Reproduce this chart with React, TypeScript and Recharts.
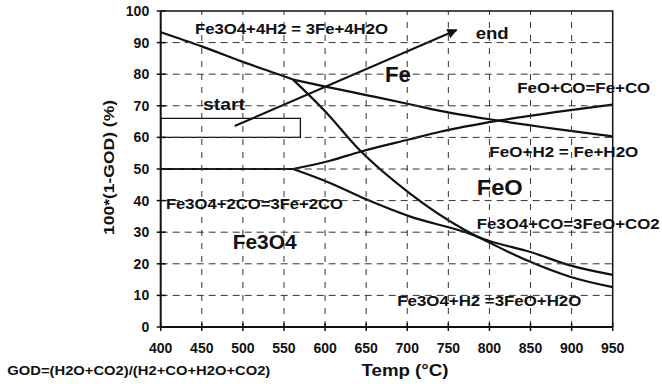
import React from 'react';
import {
  ComposedChart,
  Line,
  XAxis,
  YAxis,
  ReferenceArea,
  ReferenceDot,
} from 'recharts';

// ---------- data ----------
const xTicks = [400, 450, 500, 550, 600, 650, 700, 750, 800, 850, 900, 950];
const yTicks = [0, 10, 20, 30, 40, 50, 60, 70, 80, 90, 100];

// Fe3O4 + 4H2 = 3Fe + 4H2O (below triple point)
const fe3o4FeH2 = [
  { t: 400, v: 93.3 },
  { t: 450, v: 88.8 },
  { t: 500, v: 83.9 },
  { t: 545, v: 79.8 },
  { t: 561, v: 78.3 },
];
// FeO + H2 = Fe + H2O
const feoFeH2 = [
  { t: 561, v: 78.3 },
  { t: 602, v: 76.0 },
  { t: 650, v: 73.4 },
  { t: 703, v: 70.5 },
  { t: 740, v: 68.4 },
  { t: 811, v: 65.3 },
  { t: 880, v: 62.7 },
  { t: 950, v: 60.3 },
];
// Fe3O4 + H2 = 3FeO + H2O
const fe3o4FeoH2 = [
  { t: 561, v: 78.3 },
  { t: 600, v: 68.3 },
  { t: 642, v: 56.0 },
  { t: 703, v: 42.3 },
  { t: 768, v: 31.0 },
  { t: 800, v: 26.7 },
  { t: 849, v: 20.7 },
  { t: 898, v: 15.9 },
  { t: 950, v: 12.6 },
];
// Fe3O4 + 2CO = 3Fe + 2CO2 (below triple point)
const fe3o4FeCO = [
  { t: 400, v: 50 },
  { t: 561, v: 50 },
];
// FeO + CO = Fe + CO2
const feoFeCO = [
  { t: 561, v: 50 },
  { t: 606, v: 52.6 },
  { t: 642, v: 55.4 },
  { t: 703, v: 59.4 },
  { t: 740, v: 61.8 },
  { t: 811, v: 65.3 },
  { t: 880, v: 68.0 },
  { t: 950, v: 70.4 },
];
// Fe3O4 + CO = 3FeO + CO2
const fe3o4FeoCO = [
  { t: 561, v: 50 },
  { t: 606, v: 45.6 },
  { t: 650, v: 40.4 },
  { t: 703, v: 35.0 },
  { t: 768, v: 30.2 },
  { t: 800, v: 27.2 },
  { t: 849, v: 23.8 },
  { t: 898, v: 19.5 },
  { t: 950, v: 16.5 },
];
// start -> end arrow
const processPath = [
  { t: 490, v: 63.6 },
  { t: 760, v: 94.0 },
];
// start box
const startBox = { t1: 400, t2: 570, v1: 60, v2: 66 };

const labelTexts = {
  h2Fe: 'Fe3O4+4H2 = 3Fe+4H2O',
  coFe: 'Fe3O4+2CO=3Fe+2CO',
  fe3o4: 'Fe3O4',
  h2Feo: 'Fe3O4+H2 =3FeO+H2O',
  feoCO: 'FeO+CO=Fe+CO',
  feoH2: 'FeO+H2 = Fe+H2O',
  coFeo: 'Fe3O4+CO=3FeO+CO2',
  start: 'start',
  end: 'end',
  fe: 'Fe',
  feo: 'FeO',
};

// ---------- styling ----------
const FONT = '"Liberation Sans", Arial, Helvetica, sans-serif';
const INK = '#111';
const GRID = '#333';
const PLOT_W = 452;
const PLOT_H = 316;

const annotations = [
  { key: 'h2Fe', t: 441.7, v: 92.7, w: 193, s: 14 },
  { key: 'coFe', t: 406.4, v: 37.2, w: 177, s: 14 },
  { key: 'fe3o4', t: 487.6, v: 24.6, w: 64, s: 21 },
  { key: 'h2Feo', t: 687.9, v: 6.6, w: 184, s: 14 },
  { key: 'feoCO', t: 833.9, v: 74.0, w: 133, s: 14 },
  { key: 'feoH2', t: 799.9, v: 53.9, w: 149, s: 14 },
  { key: 'coFeo', t: 784.5, v: 30.9, w: 183, s: 14 },
  { key: 'start', t: 451.5, v: 68.7, w: 42, s: 16 },
  { key: 'end', t: 783.3, v: 91.1, w: 33, s: 17 },
  { key: 'fe', t: 672.9, v: 77.6, w: 26, s: 22 },
  { key: 'feo', t: 784.5, v: 41.8, w: 46, s: 22 },
];

const makeText = (label: string, width: number, size: number) => (p: any) => (
  <text
    x={p.cx}
    y={p.cy}
    fontSize={size}
    fontWeight="bold"
    fontFamily={FONT}
    fill={INK}
    textLength={width}
    lengthAdjust="spacingAndGlyphs"
  >
    {label}
  </text>
);

// grid column anchored at (t, 0): runs up the full plot height
const VGridShape = (p: any) => (
  <path
    d={`M${p.cx},${p.cy}V${p.cy - PLOT_H}`}
    stroke={GRID}
    strokeWidth={1}
    strokeDasharray="6 7"
    fill="none"
  />
);
// grid row anchored at (400, v): runs across the full plot width
const HGridShape = (p: any) => (
  <path
    d={`M${p.cx},${p.cy}H${p.cx + PLOT_W}`}
    stroke={GRID}
    strokeWidth={1}
    strokeDasharray="7 5"
    fill="none"
  />
);
// frame anchored at (400, 100)
const FrameShape = (p: any) => (
  <path
    d={`M${p.cx},${p.cy}H${p.cx + PLOT_W}V${p.cy + PLOT_H}`}
    stroke={INK}
    strokeWidth={1.5}
    fill="none"
  />
);

const XTick = (props: any) => {
  const { x, y, payload } = props;
  return (
    <g>
      <line x1={x} x2={x} y1={y - 4} y2={y + 4} stroke={INK} strokeWidth={1.5} />
      <text x={x} y={y + 26} textAnchor="middle" fontSize={14} fontWeight="bold" fontFamily={FONT} fill={INK}>
        {payload.value}
      </text>
    </g>
  );
};

const YTick = (props: any) => {
  const { x, y, payload } = props;
  return (
    <g>
      <line x1={x - 4} x2={x + 5} y1={y} y2={y} stroke={INK} strokeWidth={1.5} />
      <text x={x - 11.5} y={y + 5} textAnchor="end" fontSize={14} fontWeight="bold" fontFamily={FONT} fill={INK}>
        {payload.value}
      </text>
    </g>
  );
};

const XLabel = (props: any) => {
  const vb = props.viewBox || { x: 160.7, y: 327, width: 452 };
  return (
    <g>
      <text
        x={vb.x + 244.3}
        y={vb.y + 49}
        textAnchor="middle"
        fontSize={17}
        fontWeight="bold"
        fontFamily={FONT}
        fill={INK}
        textLength={87}
        lengthAdjust="spacingAndGlyphs"
      >
        Temp (°C)
      </text>
      <text
        x={vb.x - 153.4}
        y={vb.y + 48}
        fontSize={13}
        fontWeight="bold"
        fontFamily={FONT}
        fill={INK}
        textLength={263}
        lengthAdjust="spacingAndGlyphs"
      >
        GOD=(H2O+CO2)/(H2+CO+H2O+CO2)
      </text>
    </g>
  );
};

const YLabel = (props: any) => {
  const vb = props.viewBox || { x: 100.7, y: 11, width: 60, height: 316 };
  const cx = vb.x + 7.8;
  const cy = vb.y + 156.5;
  return (
    <text
      x={cx}
      y={cy}
      transform={`rotate(-90, ${cx}, ${cy})`}
      textAnchor="middle"
      dominantBaseline="central"
      fontSize={15}
      fontWeight="bold"
      fontFamily={FONT}
      fill={INK}
      textLength={135}
      lengthAdjust="spacingAndGlyphs"
    >
      100*(1-GOD) (%)
    </text>
  );
};

const series = [fe3o4FeH2, feoFeH2, fe3o4FeoH2, fe3o4FeCO, feoFeCO, fe3o4FeoCO];
const gridX = xTicks.slice(1, -1);
const gridY = yTicks.slice(1, -1);
const xMin = xTicks[0];
const yMin = yTicks[0];
const yMax = yTicks[yTicks.length - 1];

export default function App() {
  return (
    <div style={{ position: 'absolute', left: 0, top: 0, background: '#fff' }}>
      <svg width={0} height={0} style={{ position: 'absolute' }}>
        <defs>
          <marker
            id="arrowHead"
            viewBox="0 0 10 10"
            refX="9"
            refY="5"
            markerWidth="13"
            markerHeight="10"
            markerUnits="userSpaceOnUse"
            orient="auto"
          >
            <path d="M0,0 L10,5 L0,10 z" fill={INK} />
          </marker>
        </defs>
      </svg>
      <ComposedChart
        width={662}
        height={384}
        margin={{ top: 11, right: 49.3, bottom: 27, left: 100.7 }}
      >
        <XAxis
          type="number"
          dataKey="t"
          domain={[400, 950]}
          ticks={xTicks}
          interval={0}
          height={30}
          tickSize={0}
          tickMargin={0}
          tickLine={false}
          tick={<XTick />}
          axisLine={{ stroke: INK, strokeWidth: 2 }}
          label={{ content: <XLabel /> }}
        />
        <YAxis
          type="number"
          dataKey="v"
          domain={[0, 100]}
          ticks={yTicks}
          interval={0}
          width={60}
          tickSize={0}
          tickMargin={0}
          tickLine={false}
          tick={<YTick />}
          axisLine={{ stroke: INK, strokeWidth: 2 }}
          label={{ content: <YLabel /> }}
        />
        {gridX.map((t) => (
          <ReferenceDot key={`gx${t}`} x={t} y={yMin} r={0} ifOverflow="visible" shape={VGridShape} />
        ))}
        {gridY.map((v) => (
          <ReferenceDot key={`gy${v}`} x={xMin} y={v} r={0} ifOverflow="visible" shape={HGridShape} />
        ))}
        <ReferenceDot x={xMin} y={yMax} r={0} ifOverflow="visible" shape={FrameShape} />
        <ReferenceArea
          x1={startBox.t1}
          x2={startBox.t2}
          y1={startBox.v1}
          y2={startBox.v2}
          fill="none"
          fillOpacity={0}
          stroke={INK}
          strokeWidth={1.3}
          ifOverflow="visible"
        />
        {series.map((d, i) => (
          <Line
            key={`s${i}`}
            data={d}
            dataKey="v"
            type="monotone"
            stroke={INK}
            strokeWidth={2.2}
            dot={false}
            activeDot={false}
            isAnimationActive={false}
          />
        ))}
        <Line
          data={processPath}
          dataKey="v"
          type="linear"
          stroke={INK}
          strokeWidth={2}
          dot={false}
          activeDot={false}
          isAnimationActive={false}
          markerEnd="url(#arrowHead)"
        />
        {annotations.map((a) => (
          <ReferenceDot
            key={a.key}
            x={a.t}
            y={a.v}
            r={0}
            ifOverflow="visible"
            shape={makeText((labelTexts as any)[a.key], a.w, a.s)}
          />
        ))}
      </ComposedChart>
    </div>
  );
}
